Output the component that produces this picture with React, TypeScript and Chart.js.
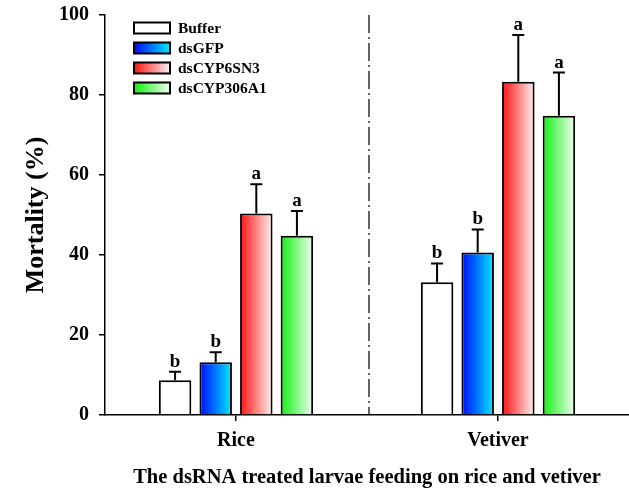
import React, { useEffect, useRef } from 'react';
import { Chart, registerables } from 'chart.js';

Chart.register(...registerables);

// ---- data ----
const categories = ['Rice', 'Vetiver'];
const seriesNames = ['Buffer', 'dsGFP', 'dsCYP6SN3', 'dsCYP306A1'];
const bufferValues = [8.7, 33.2];
const dsGFPValues = [13.2, 40.6];
const dsCYP6SN3Values = [50.4, 83.3];
const dsCYP306A1Values = [44.8, 74.8];
const bufferErrors = [2.1, 4.7];
const dsGFPErrors = [2.5, 5.8];
const dsCYP6SN3Errors = [7.3, 11.7];
const dsCYP306A1Errors = [6.2, 10.8];
const bufferLetters = ['b', 'b'];
const dsGFPLetters = ['b', 'b'];
const dsCYP6SN3Letters = ['a', 'a'];
const dsCYP306A1Letters = ['a', 'a'];
const yMin = 0;
const yMax = 100;
const yStep = 20;
const yTitle = 'Mortality (%)';
const xTitle = 'The dsRNA treated larvae feeding on rice and vetiver';

// ---- styles ----
const GRADIENTS: [string, string][] = [
  ['#ffffff', '#ffffff'],
  ['#0008ff', '#00eaff'],
  ['#ff1010', '#fff2f2'],
  ['#10f010', '#f2fff2'],
];
const FONT = '"Liberation Serif", "Times New Roman", serif';
const CAT_PCT = 0.62;
const BAR_PCT = 0.8;

const allValues = [bufferValues, dsGFPValues, dsCYP6SN3Values, dsCYP306A1Values];
const allErrors = [bufferErrors, dsGFPErrors, dsCYP6SN3Errors, dsCYP306A1Errors];
const allLetters = [bufferLetters, dsGFPLetters, dsCYP6SN3Letters, dsCYP306A1Letters];

function barGradient(ctx: any) {
  const chart = ctx.chart;
  const ds = ctx.datasetIndex;
  const stops = GRADIENTS[ds];
  const xs = chart.scales && chart.scales.x;
  if (!xs || ctx.dataIndex === undefined || !isFinite(xs.getPixelForValue(0))) return stops[0];
  const n = seriesNames.length;
  const c0 = xs.getPixelForValue(ctx.dataIndex);
  const catW = xs.getPixelForValue(1) - xs.getPixelForValue(0);
  const slot = (catW * CAT_PCT) / n;
  const center = c0 + (ds - (n - 1) / 2) * slot;
  const w = slot * BAR_PCT;
  const g = chart.ctx.createLinearGradient(center - w / 2, 0, center + w / 2, 0);
  g.addColorStop(0, stops[0]);
  g.addColorStop(1, stops[1]);
  return g;
}

const overlayPlugin = {
  id: 'overlay',
  afterDatasetsDraw(chart: any) {
    const { ctx, chartArea, scales } = chart;
    const xs = scales.x;
    const ys = scales.y;
    ctx.save();
    // separator dash-dot line between categories
    const sepX = (xs.getPixelForValue(0) + xs.getPixelForValue(1)) / 2 + 2;
    ctx.strokeStyle = '#111';
    ctx.lineWidth = 1.3;
    ctx.setLineDash([18, 4, 2, 4]);
    ctx.beginPath();
    ctx.moveTo(sepX, chartArea.top);
    ctx.lineTo(sepX, chartArea.bottom);
    ctx.stroke();
    ctx.setLineDash([]);

    // error bars and letters
    allValues.forEach((vals, di) => {
      const meta = chart.getDatasetMeta(di);
      meta.data.forEach((bar: any, i: number) => {
        const top = ys.getPixelForValue(vals[i]);
        const errTop = ys.getPixelForValue(vals[i] + allErrors[di][i]);
        ctx.strokeStyle = '#000';
        ctx.lineWidth = 2;
        ctx.beginPath();
        ctx.moveTo(bar.x, top);
        ctx.lineTo(bar.x, errTop);
        ctx.moveTo(bar.x - 6, errTop);
        ctx.lineTo(bar.x + 6, errTop);
        ctx.stroke();
        ctx.fillStyle = '#000';
        ctx.font = `bold 19px ${FONT}`;
        ctx.textAlign = 'center';
        ctx.textBaseline = 'alphabetic';
        ctx.fillText(allLetters[di][i], bar.x, errTop - 5);
      });
    });

    // legend
    const lx = chartArea.left + 29;
    const ly = chartArea.top + 13;
    const bw = 36;
    const bh = 11;
    seriesNames.forEach((name, i) => {
      const cy = ly + i * 20;
      const g = ctx.createLinearGradient(lx, 0, lx + bw, 0);
      g.addColorStop(0, GRADIENTS[i][0]);
      g.addColorStop(1, GRADIENTS[i][1]);
      ctx.fillStyle = g;
      ctx.fillRect(lx, cy - bh / 2, bw, bh);
      ctx.strokeStyle = '#000';
      ctx.lineWidth = 2;
      ctx.strokeRect(lx, cy - bh / 2, bw, bh);
      ctx.fillStyle = '#000';
      ctx.font = `bold 15.5px ${FONT}`;
      ctx.textAlign = 'left';
      ctx.textBaseline = 'middle';
      ctx.fillText(name, lx + bw + 8, cy + 1);
    });
    ctx.restore();
  },
};

export default function App() {
  const ref = useRef<HTMLCanvasElement | null>(null);
  useEffect(() => {
    if (!ref.current) return;
    const chart = new Chart(ref.current, {
      type: 'bar',
      data: {
        labels: categories,
        datasets: seriesNames.map((name, di) => ({
          label: name,
          data: allValues[di],
          backgroundColor: barGradient,
          borderColor: '#000',
          borderWidth: 2,
          borderSkipped: 'bottom',
          categoryPercentage: CAT_PCT,
          barPercentage: BAR_PCT,
        })),
      },
      options: {
        animation: false,
        responsive: false,
        maintainAspectRatio: false,
        layout: { padding: { top: 15, right: 0, left: 0, bottom: 0 } },
        plugins: { legend: { display: false }, tooltip: { enabled: false } },
        scales: {
          x: {
            offset: true,
            grid: { offset: false, drawOnChartArea: false, drawTicks: true, tickLength: 6, color: '#000', lineWidth: 1.5 },
            border: { display: true, color: '#000', width: 1.5 },
            ticks: { color: '#000', padding: 8, font: { family: FONT, size: 20, weight: 'bold' } },
            title: {
              display: true,
              text: xTitle,
              color: '#000',
              font: { family: FONT, size: 20.5, weight: 'bold' },
              padding: { top: 0, bottom: 2 },
            },
            afterFit: (scale: any) => {
              scale.height = 77;
              scale.paddingLeft = 0;
              scale.paddingRight = 0;
            },
          },
          y: {
            min: yMin,
            max: yMax,
            grid: { drawOnChartArea: false, drawTicks: true, tickLength: 6, color: '#000', lineWidth: 1.5 },
            border: { display: true, color: '#000', width: 1.5 },
            ticks: { stepSize: yStep, color: '#000', padding: 10, font: { family: FONT, size: 20, weight: 'bold' } },
            title: {
              display: true,
              text: yTitle,
              color: '#000',
              font: { family: FONT, size: 26, weight: 'bold' },
              padding: { top: 21, bottom: 0 },
            },
            afterFit: (scale: any) => {
              scale.width = 105;
              scale.paddingTop = 0;
              scale.paddingBottom = 0;
            },
          },
        },
      },
      plugins: [overlayPlugin],
    });
    return () => chart.destroy();
  }, []);
  return (
    <div style={{ position: 'absolute', left: 0, top: 0, width: 629, height: 492, background: '#fff' }}>
      <canvas ref={ref} width={629} height={492} style={{ width: 629, height: 492, display: 'block' }} />
    </div>
  );
}
